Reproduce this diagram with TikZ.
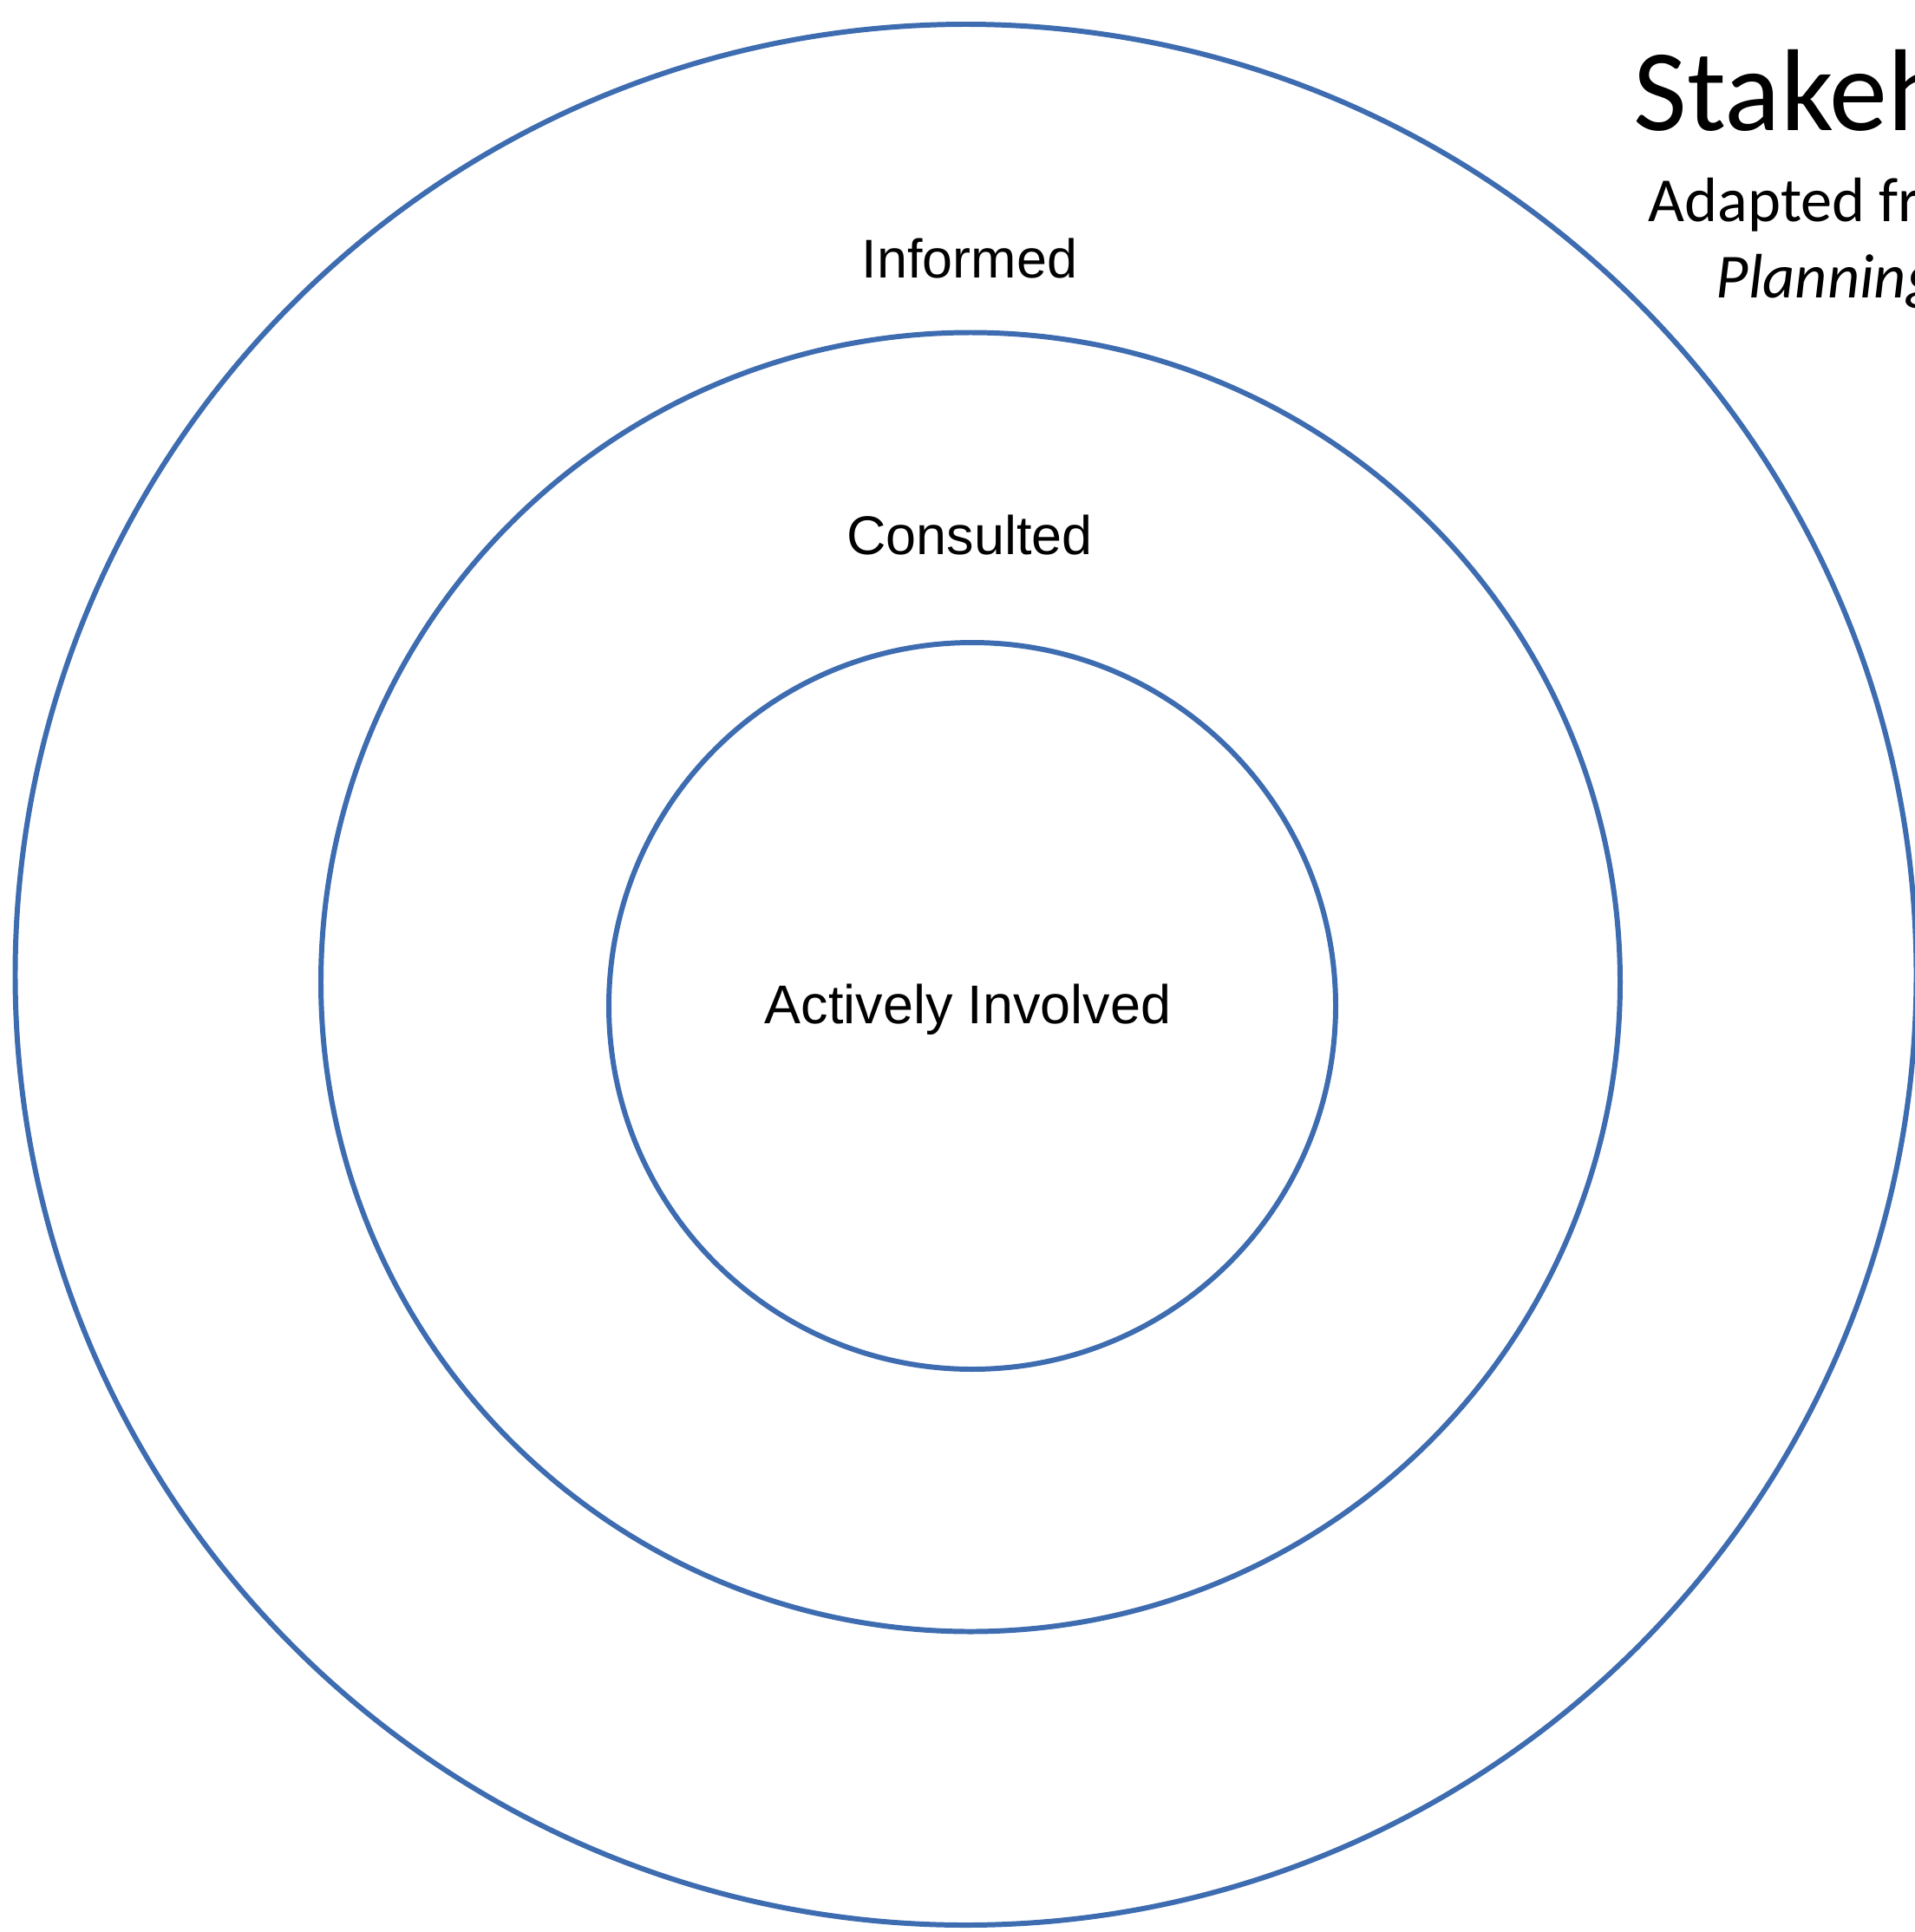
\documentclass[tikz,border=0pt]{standalone}
\usepackage{fontspec}
\setmainfont{Liberation Sans}
\newfontfamily\titlefont{Carlito}
\definecolor{ringblue}{RGB}{62,108,176}
\tikzset{
    ring/.style={draw=ringblue, line width=1.7pt},
    lvl/.style={anchor=base, inner sep=0pt, font=\fontsize{17.9}{21}\selectfont},
    ttl/.style={anchor=base west, inner sep=0pt}
}
\begin{document}
\begin{tikzpicture}
    \useasboundingbox (0, 0) rectangle (22.08, -22.28);
    \clip (0, 0) rectangle (22.08, -22.28);
    \fill[white](0, 0) rectangle (22.08, -22.28);
    % rings
    \coordinate (outerc) at (11.135, -11.24);
    \coordinate (midc) at (11.19, -11.325);
    \coordinate (innerc) at (11.21, -11.60);
    \draw[ring](outerc) circle (10.96);
    \draw[ring](midc) circle (7.49);
    \draw[ring](innerc) circle (4.19);
    % levels
    \node[lvl] (informed) at (11.18, -3.20) {Informed};
    \node[lvl] (consulted) at (11.18, -6.39) {Consulted};
    \node[lvl] (involved) at (11.16, -11.80) {Actively Involved};
    % title
    \node[ttl, font=\titlefont\fontsize{38.2}{44}\selectfont] (title) at (18.83, -1.50) {Stakeholder};
    \node[ttl, font=\titlefont\fontsize{20.6}{25}\selectfont] (adapted) at (19.0, -2.55) {Adapted from};
    \node[ttl, font=\titlefont\itshape\fontsize{20.6}{25}\selectfont] (planning) at (19.78, -3.43) {Planning};
\end{tikzpicture}
\end{document}
